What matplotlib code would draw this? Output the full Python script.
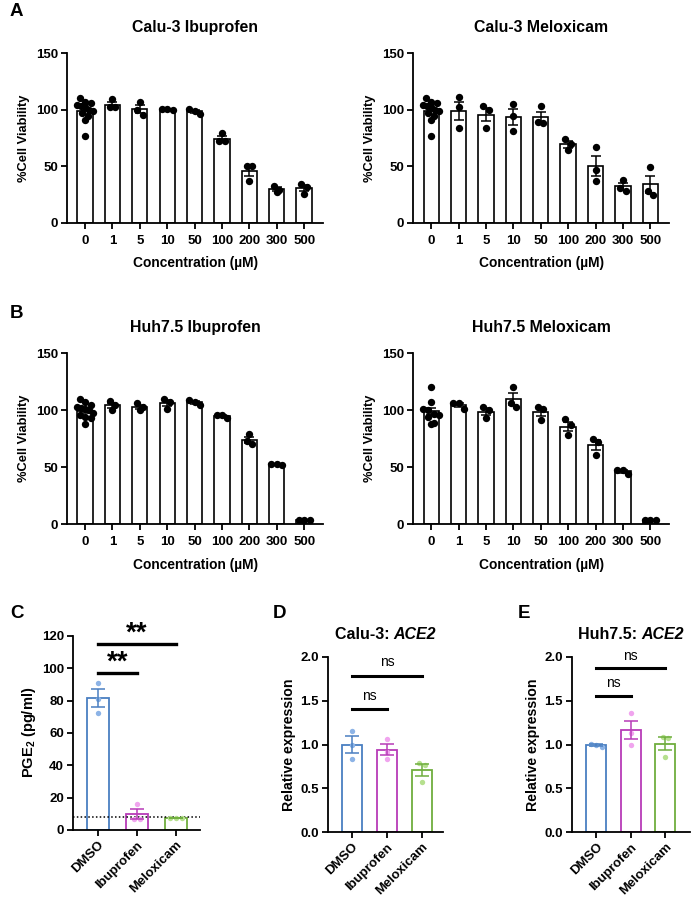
import matplotlib.pyplot as plt
import numpy as np

plt.rcParams['font.family'] = 'Liberation Sans'
plt.rcParams['font.weight'] = 'bold'
plt.rcParams['axes.labelweight'] = 'bold'
plt.rcParams['axes.titleweight'] = 'bold'
plt.rcParams['mathtext.fontset'] = 'custom'
plt.rcParams['mathtext.rm'] = 'Liberation Sans:bold'
plt.rcParams['mathtext.bf'] = 'Liberation Sans:bold'

# viability data (% of DMSO)
conc = ['0', '1', '5', '10', '50', '100', '200', '300', '500']

calu_dmso = [110, 107, 106, 104, 102, 103, 100, 97, 94, 91, 99, 77]
calu_ibu = [calu_dmso, [102, 109, 102], [95, 107, 100], [100, 101, 101],
            [101, 96, 99], [72, 79, 72], [50, 37, 50], [27, 33, 29], [34, 26, 32]]
calu_melox = [calu_dmso, [111, 102, 84], [103, 84, 100], [105, 94, 81],
              [89, 103, 88], [74, 64, 70], [67, 47, 37], [28, 38, 31], [25, 49, 28]]

huh_ibu = [[110, 107, 105, 103, 102, 101, 100, 98, 96, 94, 93, 88],
           [108, 100, 105], [106, 100, 103], [110, 101, 107], [105, 109, 107],
           [93, 95.5, 95.5], [70, 79, 73], [52, 53, 53], [4, 4, 4]]
huh_melox = [[120, 107, 101, 100, 97, 96, 94, 89, 88],
             [101, 106, 106], [103, 93, 100], [103, 120, 106], [103, 91, 101],
             [92, 78, 87], [75, 61, 72], [44, 47.5, 47.5], [4, 4, 4]]

# PGE2 and ACE2 data
treat = ['DMSO', 'Ibuprofen', 'Meloxicam']
pge2 = [[91, 81, 72], [7, 16, 7], [7.5, 7.5, 7.5]]
pge2_lod = 7.8
ace2_calu = [[1.16, 1.0, 0.84], [1.06, 0.92, 0.84], [0.79, 0.77, 0.57]]
ace2_huh = [[0.97, 1.01, 0.99], [1.36, 1.13, 1.0], [1.09, 1.08, 0.86]]

edge_cols = ['#4a7fc1', '#b83bb8', '#6fae3e']
dot_cols = ['#8cb3e6', '#f0a4ee', '#b6e08e']


def swarm(vals, ydiam, step, maxhalf=0.3):
    # points close in y share a row and are spread sideways
    order = np.argsort(vals)[::-1]
    offs = np.zeros(len(vals))
    rows = []
    for i in order:
        if rows and vals[rows[-1][0]] - vals[i] < ydiam:
            rows[-1].append(i)
        else:
            rows.append([i])
    for r in rows:
        m = len(r)
        st = step if m < 2 else min(step, 2 * maxhalf / (m - 1))
        for j, i in enumerate(r):
            offs[i] = (j - (m - 1) / 2) * st
    return offs


def style(ax):
    for s in ['top', 'right']:
        ax.spines[s].set_visible(False)
    for s in ['left', 'bottom']:
        ax.spines[s].set_linewidth(1.3)
    ax.tick_params(width=1.3, length=4, labelsize=9.5, pad=2.5)


def viability(ax, groups, title):
    x = np.arange(len(groups))
    means = [np.mean(g) for g in groups]
    sems = [np.std(g, ddof=1) / np.sqrt(len(g)) for g in groups]
    ax.bar(x, means, width=0.56, color='white', edgecolor='black', linewidth=1.2, zorder=1)
    for i, g in enumerate(groups):
        ax.scatter(i + swarm(g, 6.0, 0.2), g, s=28, color='black', zorder=3, linewidths=0)
    ax.errorbar(x, means, yerr=sems, fmt='none', ecolor='black', elinewidth=1.1,
                capsize=3.6, capthick=1.1, zorder=4)
    ax.set_xlim(-0.66, 8.69)
    ax.set_ylim(0, 150)
    ax.set_yticks([0, 50, 100, 150])
    ax.set_xticks(x)
    ax.set_xticklabels(conc)
    style(ax)
    ax.tick_params(axis='x', pad=4.5)
    ax.set_title(title, fontsize=11.4, pad=15)
    ax.set_xlabel('Concentration (µM)', fontsize=9.9, labelpad=7)
    ax.set_ylabel('%Cell Viability', fontsize=9.3, labelpad=4)


def treat_panel(ax, groups, ymax, ydiam, step):
    x = np.arange(3)
    means = [np.mean(g) for g in groups]
    sems = [np.std(g, ddof=1) / np.sqrt(len(g)) for g in groups]
    ax.bar(x, means, width=0.58, color='white', edgecolor=edge_cols, linewidth=1.3, zorder=1)
    for i, g in enumerate(groups):
        ax.scatter(i + swarm(g, ydiam, step), g, s=15, color=dot_cols[i], zorder=3, linewidths=0)
        ax.errorbar(i, means[i], yerr=sems[i], fmt='none', ecolor=edge_cols[i],
                    elinewidth=1.1, capsize=4.7, capthick=1.1, zorder=4)
    ax.set_xticks(x)
    ax.set_xticklabels(treat, rotation=45, ha='right', rotation_mode='anchor', fontsize=9.8)
    ax.set_ylim(0, ymax)
    style(ax)


def gene_title(ax, cell, gene):
    # upright cell line name followed by italic gene name, centred over the axes
    t1 = ax.text(0.5, 1.085, cell, transform=ax.transAxes, ha='left', va='bottom',
                 fontsize=11.5, fontweight='bold')
    t2 = ax.annotate(gene, xy=(1, 0), xycoords=t1, ha='left', va='bottom',
                     fontsize=11.5, fontweight='bold', fontstyle='italic')
    return t1, t2


fig = plt.figure(figsize=(6.92, 8.99), dpi=100)

axA1 = fig.add_axes([0.0968, 0.752, 0.370, 0.189])
axA2 = fig.add_axes([0.597, 0.752, 0.370, 0.189])
axB1 = fig.add_axes([0.0968, 0.417, 0.370, 0.190])
axB2 = fig.add_axes([0.597, 0.417, 0.370, 0.190])
viability(axA1, calu_ibu, 'Calu-3 Ibuprofen')
viability(axA2, calu_melox, 'Calu-3 Meloxicam')
viability(axB1, huh_ibu, 'Huh7.5 Ibuprofen')
viability(axB2, huh_melox, 'Huh7.5 Meloxicam')

# panel C
axC = fig.add_axes([0.1055, 0.0768, 0.1835, 0.216])
treat_panel(axC, pge2, 120, 3.2, 0.15)
axC.set_xlim(-0.64, 2.62)
axC.set_yticks(np.arange(0, 121, 20))
axC.axhline(pge2_lod, color='black', ls=(0, (1, 1.5)), lw=1.1, zorder=2)
axC.set_ylabel(r'PGE$_\mathbf{2}$ (pg/ml)', fontsize=10.5, labelpad=3)
axC.plot([0, 1], [97.3, 97.3], color='black', lw=2.4, clip_on=False)
axC.text(0.5, 95.5, '**', ha='center', va='bottom', fontsize=20)
axC.plot([0, 2], [114.8, 114.8], color='black', lw=2.4, clip_on=False)
axC.text(1, 113, '**', ha='center', va='bottom', fontsize=20)

# panel D
axD = fig.add_axes([0.474, 0.0745, 0.166, 0.1947])
treat_panel(axD, ace2_calu, 2.0, 0.06, 0.16)
axD.set_xlim(-0.69, 2.6)
axD.set_yticks([0, 0.5, 1.0, 1.5, 2.0])
axD.set_yticklabels(['0.0', '0.5', '1.0', '1.5', '2.0'])
axD.set_ylabel('Relative expression', fontsize=10.2, labelpad=3)
tD = gene_title(axD, 'Calu-3: ', 'ACE2')
axD.plot([0, 1], [1.4, 1.4], color='black', lw=2.2, clip_on=False)
axD.text(0.5, 1.47, 'ns', ha='center', va='bottom', fontsize=10, fontweight='normal')
axD.plot([0, 2], [1.787, 1.787], color='black', lw=2.2, clip_on=False)
axD.text(1, 1.86, 'ns', ha='center', va='bottom', fontsize=10, fontweight='normal')

# panel E
axE = fig.add_axes([0.8266, 0.0745, 0.17, 0.1947])
treat_panel(axE, ace2_huh, 2.0, 0.06, 0.16)
axE.set_xlim(-0.7, 2.7)
axE.set_yticks([0, 0.5, 1.0, 1.5, 2.0])
axE.set_yticklabels(['0.0', '0.5', '1.0', '1.5', '2.0'])
axE.set_ylabel('Relative expression', fontsize=10.2, labelpad=3)
tE = gene_title(axE, 'Huh7.5: ', 'ACE2')
axE.plot([0, 1], [1.55, 1.55], color='black', lw=2.2, clip_on=False)
axE.text(0.5, 1.62, 'ns', ha='center', va='bottom', fontsize=10, fontweight='normal')
axE.plot([0, 2], [1.87, 1.87], color='black', lw=2.2, clip_on=False)
axE.text(1, 1.93, 'ns', ha='center', va='bottom', fontsize=10, fontweight='normal')

# panel letters
for lab, px, py in [('A', 10, 12), ('B', 10, 313), ('C', 10, 613), ('D', 273, 613), ('E', 518, 613)]:
    fig.text(px / 692, 1 - py / 899, lab, fontsize=13.5, fontweight='bold', va='center', ha='left')

# centre the two-part titles
fig.canvas.draw()
r = fig.canvas.get_renderer()
for ax, (t1, t2) in [(axD, tD), (axE, tE)]:
    w = t1.get_window_extent(r).width + t2.get_window_extent(r).width
    axw = ax.get_window_extent(r).width
    t1.set_x(0.5 - 0.5 * w / axw)

fig.savefig('out.png', dpi=100)
